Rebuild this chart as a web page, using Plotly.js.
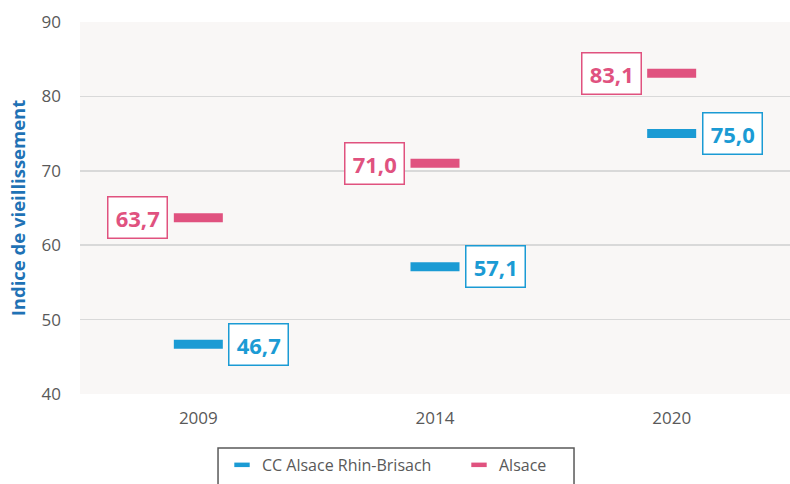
<!DOCTYPE html>
<html>
<head>
<meta charset="utf-8">
<script src="https://cdn.plot.ly/plotly-3.0.1.min.js"></script>
<style>html,body{margin:0;padding:0;background:#fff;}#chart{width:790px;height:484px;}</style>
</head>
<body>
<div id="chart"></div>
<script>
const years = ['2009', '2014', '2020'];
const seriesNames = ['CC Alsace Rhin-Brisach', 'Alsace'];
const ccValues = [46.7, 57.1, 75.0];
const alsaceValues = [63.7, 71.0, 83.1];
const yTicks = [40, 50, 60, 70, 80, 90];

const blue = '#1b9bd4';
const pink = '#e0527f';
const fmt = v => '\u200A' + v.toFixed(1).replace('.', ',') + '\u200A';

const series = [
  {name: seriesNames[0], y: ccValues, color: blue},
  {name: seriesNames[1], y: alsaceValues, color: pink}
];
const traces = [];
series.forEach((s, k) => {
  traces.push({
    type: 'scatter', mode: 'markers', name: s.name, x: years, y: s.y,
    legendgroup: 'g' + k, showlegend: false,
    marker: {symbol: 'line-ew', size: 35, color: s.color, line: {color: s.color, width: 9}},
    hoverinfo: 'skip', cliponaxis: false
  });
});
series.forEach((s, k) => {
  traces.push({
    type: 'scatter', mode: 'markers', name: s.name, x: [null], y: [null],
    legendgroup: 'g' + k, showlegend: true,
    marker: {symbol: 'line-ew', size: 11, color: s.color, line: {color: s.color, width: 4.5}},
    hoverinfo: 'skip'
  });
});

const annotations = [];
years.forEach((yr, i) => {
  annotations.push({x: i, y: ccValues[i], xref: 'x', yref: 'y', text: fmt(ccValues[i]), showarrow: false,
    xanchor: 'left', yanchor: 'middle', xshift: 30,
    font: {family: 'Open Sans', size: 22, color: blue, weight: 'bold'},
    bgcolor: '#ffffff', bordercolor: blue, borderwidth: 1.5, borderpad: 5});
  annotations.push({x: i, y: alsaceValues[i], xref: 'x', yref: 'y', text: fmt(alsaceValues[i]), showarrow: false,
    xanchor: 'right', yanchor: 'middle', xshift: -30,
    font: {family: 'Open Sans', size: 22, color: pink, weight: 'bold'},
    bgcolor: '#ffffff', bordercolor: pink, borderwidth: 1.5, borderpad: 5});
});

const layout = {
  width: 790, height: 484,
  margin: {l: 80, r: 0, t: 22, b: 90},
  paper_bgcolor: '#ffffff', plot_bgcolor: '#f9f7f6',
  font: {family: 'Open Sans', color: '#595959', size: 17},
  showlegend: true,
  legend: {orientation: 'h', x: 0.2, xanchor: 'left', y: -0.145, yanchor: 'top',
    borderwidth: 0, bgcolor: 'rgba(0,0,0,0)', entrywidth: 192, entrywidthmode: 'pixels',
    font: {size: 16, color: '#595959'}, itemclick: false},
  shapes: [{type: 'rect', xref: 'paper', yref: 'paper', x0: 0.1944, x1: 0.6958, y0: -0.1452, y1: -0.3,
    line: {color: '#595959', width: 1.5}, fillcolor: '#ffffff', layer: 'below'}],
  xaxis: {type: 'category', range: [-0.5, 2.5], showgrid: false, zeroline: false,
    showline: false, ticks: '', ticklabelstandoff: 12, tickfont: {size: 17, color: '#595959'}},
  yaxis: {range: [40, 90], tickvals: yTicks, showgrid: true, gridcolor: '#d9d9d9', gridwidth: 1.5,
    zeroline: false, showline: false, ticks: '', ticklabelstandoff: 18,
    tickfont: {size: 17, color: '#595959'},
    title: {text: 'Indice de vieillissement', standoff: 11,
      font: {size: 18.5, color: '#1f72b5', weight: 'bold'}}},
  annotations: annotations
};

Plotly.newPlot('chart', traces, layout, {displayModeBar: false, staticPlot: true});
</script>
</body>
</html>
